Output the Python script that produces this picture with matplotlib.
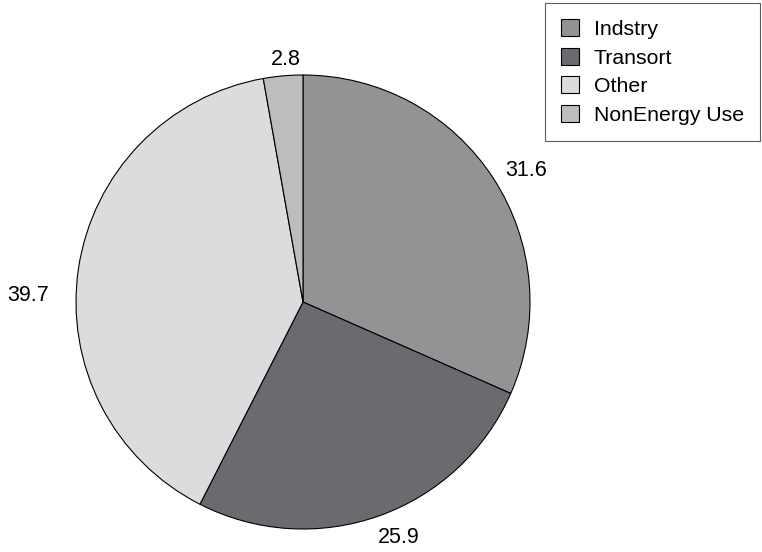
import numpy as np
import matplotlib.pyplot as plt

sectors = ["Indstry", "Transort", "Other", "NonEnergy Use"]
shares = [31.6, 25.9, 39.7, 2.8]
colors = ["#939396", "#6b6b6f", "#dcdcde", "#bdbdc0"]

# value label placement: radius (in pie radii) and angular nudge (degrees)
label_radius = [1.14, 1.12, 1.21, 1.07]
label_shift = [-2.7, 2.6, 7, -1]

plt.rcParams["font.family"] = ["Liberation Sans", "DejaVu Sans"]

fig = plt.figure(figsize=(7.62, 5.52), dpi=100)
cx, cy, r = 303, 302, 227
ax = fig.add_axes([(cx - r) / 762, (552 - cy - r) / 552, 2 * r / 762, 2 * r / 552])

wedges, _ = ax.pie(
    shares,
    colors=colors,
    startangle=90,
    counterclock=False,
    wedgeprops=dict(edgecolor="black", linewidth=0.8),
)
ax.set_xlim(-1, 1)
ax.set_ylim(-1, 1)
ax.set_aspect("equal")

for w, v, d, s in zip(wedges, shares, label_radius, label_shift):
    ang = np.deg2rad((w.theta1 + w.theta2) / 2 + s)
    ax.text(d * np.cos(ang), d * np.sin(ang), f"{v:.1f}",
            ha="center", va="center", fontsize=15.5, clip_on=False)

leg = fig.legend(
    wedges,
    sectors,
    loc="upper right",
    bbox_to_anchor=(760 / 762, 549 / 552),
    borderaxespad=0,
    fontsize=15.3,
    frameon=True,
    fancybox=False,
    edgecolor="#333333",
    handlelength=0.85,
    handleheight=0.85,
    handletextpad=0.7,
    borderpad=0.75,
    labelspacing=0.42,
)
leg.get_frame().set_linewidth(0.8)

fig.savefig("out.png", dpi=100)
